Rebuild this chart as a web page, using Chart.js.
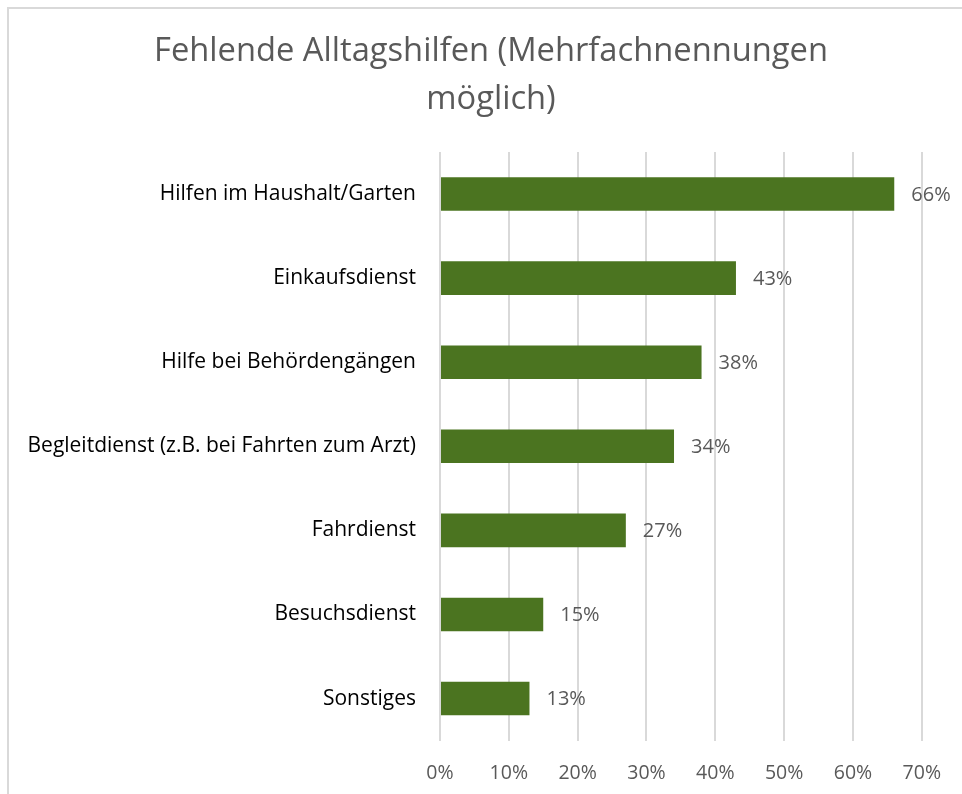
<!DOCTYPE html>
<html lang="de">
<head>
<meta charset="UTF-8">
<title>Fehlende Alltagshilfen</title>
<script src="https://cdn.jsdelivr.net/npm/chart.js"></script>
<style>
    body {
        margin: 0;
        background: #fff;
        overflow: hidden;
    }
    #frame {
        position: absolute;
        left: 7px;
        top: 7px;
        width: 1000px;
        height: 900px;
        border: 2px solid #d9d9d9;
    }
    #wrap {
        position: absolute;
        left: 0;
        top: 0;
        width: 962px;
        height: 794px;
    }
</style>
</head>
<body>

<div id="frame"></div>
<div id="wrap"><canvas id="myBarChart" width="962" height="794"></canvas></div>

<script>
var chartTitle = ['Fehlende Alltagshilfen (Mehrfachnennungen', 'möglich)'];
var categories = [
    'Hilfen im Haushalt/Garten',
    'Einkaufsdienst',
    'Hilfe bei Behördengängen',
    'Begleitdienst (z.B. bei Fahrten zum Arzt)',
    'Fahrdienst',
    'Besuchsdienst',
    'Sonstiges'
];
var percentValues = [66, 43, 38, 34, 27, 15, 13];
var tickValues = [0, 10, 20, 30, 40, 50, 60, 70];

var fontFamily = '"Open Sans", "DejaVu Sans", sans-serif';

// write the percentage next to the end of each bar
var valueLabels = {
    id: 'valueLabels',
    afterDatasetsDraw: function (chart) {
        var ctx = chart.ctx;
        var meta = chart.getDatasetMeta(0);
        ctx.save();
        ctx.font = '20px ' + fontFamily;
        ctx.fillStyle = '#595959';
        ctx.textAlign = 'left';
        ctx.textBaseline = 'middle';
        meta.data.forEach(function (bar, i) {
            ctx.fillText(percentValues[i] + '%', bar.x + 17, bar.y + 1);
        });
        ctx.restore();
    }
};

// title sits a bit right of the canvas centre, like in the original
var titleBlock = {
    id: 'titleBlock',
    afterDraw: function (chart) {
        var ctx = chart.ctx;
        ctx.save();
        ctx.font = '32.7px ' + fontFamily;
        ctx.fillStyle = '#595959';
        ctx.textAlign = 'center';
        ctx.textBaseline = 'middle';
        chartTitle.forEach(function (line, i) {
            ctx.fillText(line, 491, 52 + i * 48);
        });
        ctx.restore();
    }
};

var barData = {
    labels: categories,
    datasets: [{
        data: percentValues,
        backgroundColor: '#4b7420',
        borderWidth: 0,
        barPercentage: 0.8,
        categoryPercentage: 0.5
    }]
};

var barOptions = {
    indexAxis: 'y',
    responsive: false,
    animation: false,
    layout: {
        padding: { left: 0, right: 40, top: 152, bottom: -12 }
    },
    plugins: {
        legend: { display: false },
        tooltip: { enabled: false },
        title: { display: false }
    },
    scales: {
        x: {
            type: 'linear',
            position: 'bottom',
            min: 0,
            max: 70,
            afterBuildTicks: function (axis) {
                axis.ticks = tickValues.map(function (v) { return { value: v }; });
            },
            grid: { color: '#d9d9d9', lineWidth: 2, drawTicks: false },
            border: { display: false },
            ticks: {
                padding: 21,
                color: '#595959',
                font: { family: fontFamily, size: 19.5 },
                callback: function (v) { return v + '%'; }
            }
        },
        y: {
            type: 'category',
            grid: { display: false, drawTicks: false },
            border: { display: false },
            afterFit: function (axis) { axis.width = 440; },
            ticks: {
                padding: 24,
                color: '#000000',
                font: { family: fontFamily, size: 21 }
            }
        }
    }
};

var ctxBar = document.getElementById('myBarChart').getContext('2d');
var myBarChart = new Chart(ctxBar, {
    type: 'bar',
    data: barData,
    options: barOptions,
    plugins: [valueLabels, titleBlock]
});
</script>

</body>
</html>
